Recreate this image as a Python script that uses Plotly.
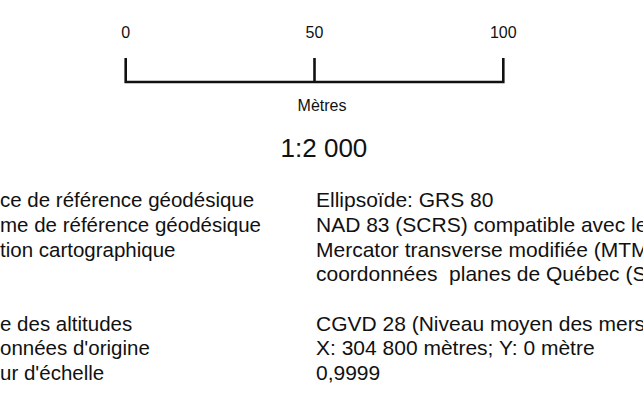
import plotly.graph_objects as go

# Scale bar data
scale_ticks = [0, 50, 100]
scale_labels = ["0", "50", "100"]
unit_label = "Mètres"
ratio_label = "1:2 000"

# Metadata table
left_labels = [
    "ce de référence géodésique",
    "me de référence géodésique",
    "tion cartographique",
    "",
    "",
    "e des altitudes",
    "onnées d'origine",
    "ur d'échelle",
]
right_values = [
    "Ellipsoïde: GRS 80",
    "NAD 83 (SCRS) compatible avec le NAD 83 (CSRS)",
    "Mercator transverse modifiée (MTM), fuseau 7",
    "coordonnées  planes de Québec (SCOPQ)",
    "",
    "CGVD 28 (Niveau moyen des mers)",
    "X: 304 800 mètres; Y: 0 mètre",
    "0,9999",
]
row_index = list(range(len(left_labels)))

W, H = 643, 415
FONT = "Arial, Liberation Sans, sans-serif"

fig = go.Figure()

# scale bar (uses x2 axis in metres)
bar_top, bar_bottom = 58, 82
fig.add_trace(go.Scatter(
    x=[scale_ticks[0], scale_ticks[0], scale_ticks[-1], scale_ticks[-1]],
    y=[bar_top, bar_bottom, bar_bottom, bar_top],
    mode="lines", line=dict(color="#111111", width=2.6),
    xaxis="x2", yaxis="y", hoverinfo="skip", showlegend=False))
fig.add_trace(go.Scatter(
    x=[scale_ticks[1], scale_ticks[1]], y=[bar_top, bar_bottom],
    mode="lines", line=dict(color="#111111", width=2.6),
    xaxis="x2", yaxis="y", hoverinfo="skip", showlegend=False))
fig.add_trace(go.Scatter(
    x=scale_ticks, y=[34] * len(scale_ticks), text=scale_labels,
    mode="text", textposition="middle center",
    textfont=dict(family=FONT, size=16, color="#111111"),
    xaxis="x2", yaxis="y", hoverinfo="skip", showlegend=False))
fig.add_trace(go.Scatter(
    x=[52], y=[107], text=[unit_label],
    mode="text", textposition="middle center",
    textfont=dict(family=FONT, size=16, color="#111111"),
    xaxis="x2", yaxis="y", hoverinfo="skip", showlegend=False))
fig.add_trace(go.Scatter(
    x=[52.5], y=[150], text=[ratio_label],
    mode="text", textposition="middle center",
    textfont=dict(family=FONT, size=26, color="#111111"),
    xaxis="x2", yaxis="y", hoverinfo="skip", showlegend=False))

# table rows
row_y = [202 + 24.7 * i for i in row_index]
fig.add_trace(go.Scatter(
    x=[0] * len(left_labels), y=row_y, text=left_labels,
    mode="text", textposition="middle right", cliponaxis=True,
    textfont=dict(family=FONT, size=20.5, color="#111111"),
    hoverinfo="skip", showlegend=False))
fig.add_trace(go.Scatter(
    x=[316] * len(right_values), y=row_y, text=right_values,
    mode="text", textposition="middle right", cliponaxis=True,
    textfont=dict(family=FONT, size=21, color="#111111"),
    hoverinfo="skip", showlegend=False))

px_per_m = (503.3 - 125.7) / 100.0
x2_lo = -125.7 / px_per_m
x2_hi = x2_lo + W / px_per_m

fig.update_layout(
    width=W, height=H,
    margin=dict(l=0, r=0, t=0, b=0),
    paper_bgcolor="white", plot_bgcolor="white",
    xaxis=dict(range=[0, W], visible=False, fixedrange=True),
    xaxis2=dict(range=[x2_lo, x2_hi], overlaying="x", visible=False, fixedrange=True),
    yaxis=dict(range=[H, 0], visible=False, fixedrange=True),
    showlegend=False,
)

fig.write_html(
    "out.html",
    config={"displayModeBar": False},
    post_script="document.body.style.margin='0';document.body.style.overflow='hidden';",
)
